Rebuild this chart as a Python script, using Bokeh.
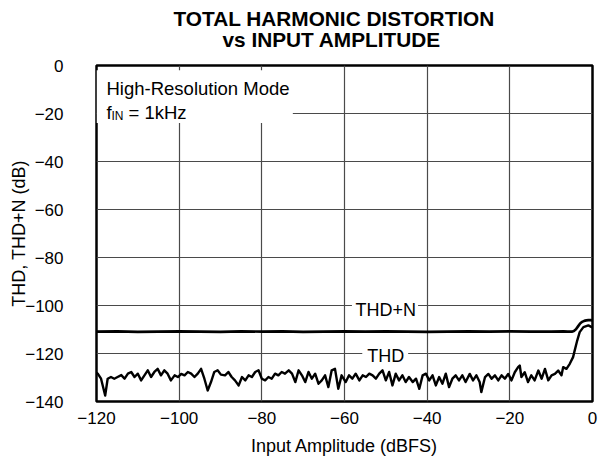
from bokeh.plotting import figure
from bokeh.models import FixedTicker, Title, Range1d
from bokeh.core.properties import value
from bokeh.embed import file_html
from bokeh.resources import INLINE

FONT = "Liberation Sans"

x_ticks = [-120, -100, -80, -60, -40, -20, 0]
x_tick_labels = ["\u2212120", "\u2212100", "\u221280", "\u221260", "\u221240", "\u221220", "0"]
y_ticks = [0, -20, -40, -60, -80, -100, -120, -140]
y_tick_labels = ["0", "\u221220", "\u221240", "\u221260", "\u221280", "\u2212100", "\u2212120", "\u2212140"]

thd_x = [-120.0, -119.7, -118.9, -117.9, -117.3, -116.5, -115.7, -114.9, -114.0, -113.2,
         -112.4, -111.6, -110.8, -110.0, -109.2, -108.4, -107.6, -106.8, -106.0, -105.2,
         -104.4, -103.6, -102.8, -102.0, -101.1, -100.3, -99.5, -98.7, -97.9, -97.1,
         -96.3, -95.5, -94.7, -93.9, -93.1, -92.3, -91.5, -90.7, -89.9, -88.9,
         -88.1, -87.3, -86.5, -85.6, -84.8, -84.0, -83.2, -82.4, -81.6, -80.8,
         -80.0, -79.2, -78.4, -77.6, -76.8, -76.0, -75.2, -74.4, -73.5, -72.7,
         -71.9, -71.1, -70.3, -69.5, -68.7, -67.9, -67.1, -66.3, -65.5, -64.7,
         -63.9, -63.1, -62.3, -61.5, -60.7, -59.7, -58.9, -58.1, -57.3, -56.4,
         -55.6, -54.8, -54.0, -53.2, -52.4, -51.6, -50.8, -50.0, -49.2, -48.4,
         -47.6, -46.8, -46.0, -45.2, -44.4, -43.5, -42.7, -41.9, -41.1, -40.3,
         -39.5, -38.7, -37.9, -37.1, -36.3, -35.5, -34.7, -33.9, -33.1, -32.3,
         -31.5, -30.7, -29.7, -28.9, -28.1, -27.3, -26.9, -26.0, -25.2, -24.4,
         -23.6, -22.8, -22.0, -21.2, -20.4, -19.6, -18.8, -18.0, -17.6, -17.2,
         -16.4, -15.6, -14.8, -14.0, -13.1, -12.3, -11.5, -10.7, -9.9, -9.1,
         -8.3, -7.5, -7.1, -6.3, -5.5, -4.7, -4.3, -3.7, -3.1, -2.2,
         -1.0, -0.2, 0.0]
thd_y = [-128.0, -128.4, -130.5, -137.5, -130.5, -129.8, -130.5, -129.8, -129.0, -130.5,
         -128.4, -127.7, -129.8, -128.4, -131.2, -129.1, -127.0, -129.8, -127.7, -126.4,
         -129.1, -127.0, -128.4, -131.2, -129.1, -129.8, -128.5, -129.1, -127.7, -128.4,
         -129.8, -128.4, -126.4, -130.5, -135.4, -131.9, -127.7, -127.0, -128.8, -129.1,
         -127.7, -129.8, -131.2, -133.3, -129.8, -131.2, -129.1, -129.8, -127.7, -127.0,
         -130.5, -131.2, -129.8, -130.5, -128.4, -129.1, -127.7, -128.4, -127.0, -128.4,
         -131.9, -127.0, -129.1, -131.9, -127.7, -130.5, -128.4, -132.6, -131.2, -129.1,
         -134.0, -127.0, -126.4, -134.7, -129.1, -131.9, -129.1, -130.5, -128.4, -131.2,
         -129.1, -129.8, -128.4, -129.1, -130.5, -128.4, -127.0, -131.2, -127.7, -133.3,
         -128.4, -131.2, -129.1, -131.9, -129.8, -131.9, -130.5, -134.7, -129.1, -128.4,
         -131.2, -129.1, -133.3, -129.8, -132.6, -128.4, -134.0, -130.5, -129.1, -131.2,
         -129.1, -131.9, -128.5, -131.2, -129.1, -131.9, -136.1, -129.8, -128.5, -130.5,
         -129.1, -131.2, -129.1, -130.5, -128.5, -131.2, -127.8, -125.7, -125.0, -129.8,
         -127.8, -131.9, -129.1, -131.2, -127.1, -130.5, -126.4, -131.2, -129.1, -128.5,
         -127.1, -129.1, -125.7, -126.4, -124.3, -121.5, -118.7, -114.6, -111.1, -109.0,
         -108.3, -109.0, -109.1]

thdn_x = [-120, -115, -110, -105, -100, -95, -90, -85, -80, -75, -70, -65, -60, -55, -50,
          -45, -40, -35, -30, -25, -20, -15, -10, -7, -6, -5, -4.5, -4, -3.5, -3, -2.5,
          -2, -1.5, -1, -0.5, 0]
thdn_y = [-110.9, -110.8, -111.0, -110.9, -110.8, -110.9, -111.0, -110.8, -110.9, -110.8,
          -111.0, -110.9, -110.8, -110.9, -110.8, -110.9, -111.0, -110.9, -110.8, -110.9,
          -110.8, -110.9, -110.9, -110.8, -110.9, -110.9, -110.6, -109.9, -108.7, -107.5,
          -106.8, -106.4, -106.2, -106.1, -106.1, -106.2]

title_lines = ["TOTAL HARMONIC DISTORTION", "vs INPUT AMPLITUDE"]
x_label = "Input Amplitude (dBFS)"
y_label = "THD, THD+N (dB)"
note_line1 = "High-Resolution Mode"
series_names = ["THD+N", "THD"]

p = figure(width=600, height=466, x_range=Range1d(-120, 0), y_range=Range1d(-140, 0),
           output_backend="svg", toolbar_location=None,
           min_border_left=96, min_border_right=8, min_border_bottom=65, min_border_top=65)
p.background_fill_color = "white"
p.border_fill_color = "white"
p.outline_line_color = "black"
p.outline_line_width = 2.5

# titles: second line added first so it sits next to the frame
t2 = Title(text=title_lines[1], align="left", offset=126, text_font=FONT,
           text_font_size="20.8px", text_font_style="bold", text_color="black", standoff=29)
t1 = Title(text=title_lines[0], align="left", offset=77, text_font=FONT,
           text_font_size="20.8px", text_font_style="bold", text_color="black", standoff=-37)
p.add_layout(t2, "above")
p.add_layout(t1, "above")

for ax in (p.xaxis[0], p.yaxis[0]):
    ax.axis_line_color = None
    ax.major_tick_line_color = None
    ax.minor_tick_line_color = None
    ax.major_label_text_font = FONT
    ax.major_label_text_font_size = "17px"
    ax.major_label_text_color = "black"
    ax.axis_label_text_font = FONT
    ax.axis_label_text_font_size = "18px"
    ax.axis_label_text_font_style = "normal"
    ax.axis_label_text_color = "black"

p.xaxis.ticker = FixedTicker(ticks=x_ticks)
p.xaxis.major_label_overrides = {t: l for t, l in zip(x_ticks, x_tick_labels)}
p.xaxis.major_label_standoff = 4
p.xaxis.axis_label = x_label
p.xaxis.axis_label_standoff = 9

p.yaxis.ticker = FixedTicker(ticks=y_ticks)
p.yaxis.major_label_overrides = {t: l for t, l in zip(y_ticks, y_tick_labels)}
p.yaxis.major_label_standoff = 27
p.yaxis.axis_label = y_label
p.yaxis.axis_label_standoff = -7

p.xgrid.ticker = FixedTicker(ticks=x_ticks[1:-1])
p.ygrid.ticker = FixedTicker(ticks=y_ticks[1:-1])
for g in (p.xgrid[0], p.ygrid[0]):
    g.grid_line_color = "#4a4a4a"
    g.grid_line_width = 1.2

# white boxes masking the grid behind the annotations
p.quad(left=[-120, -58.2, -55.7], right=[-72.5, -42.2, -44.6],
       top=[-2, -97.5, -117], bottom=[-24, -105.5, -124.5],
       fill_color="white", line_color=None)

p.line(thdn_x, thdn_y, line_color="black", line_width=2.6)
p.line(thd_x, thd_y, line_color="black", line_width=2.4, line_join="round")

txt = dict(text_font=value(FONT), text_color="black")
p.text(x=[-50], y=[-101.9], text=[series_names[0]], text_align="center",
       text_baseline="middle", text_font_size="18px", **txt)
p.text(x=[-50], y=[-120.9], text=[series_names[1]], text_align="center",
       text_baseline="middle", text_font_size="18px", **txt)

p.text(x=[-120], y=[-9.6], text=[note_line1], x_offset=10, text_align="left",
       text_baseline="alphabetic", text_font_size="18.5px", **txt)
p.text(x=[-120], y=[-19.4], text=["f"], x_offset=10, text_align="left",
       text_baseline="alphabetic", text_font_size="18.5px", **txt)
p.text(x=[-120], y=[-19.4], text=["IN"], x_offset=15, y_offset=4, text_align="left",
       text_baseline="alphabetic", text_font_size="12px", **txt)
p.text(x=[-120], y=[-19.4], text=["= 1kHz"], x_offset=32, text_align="left",
       text_baseline="alphabetic", text_font_size="18.5px", **txt)

open("out.html", "w").write(file_html(p, INLINE))
